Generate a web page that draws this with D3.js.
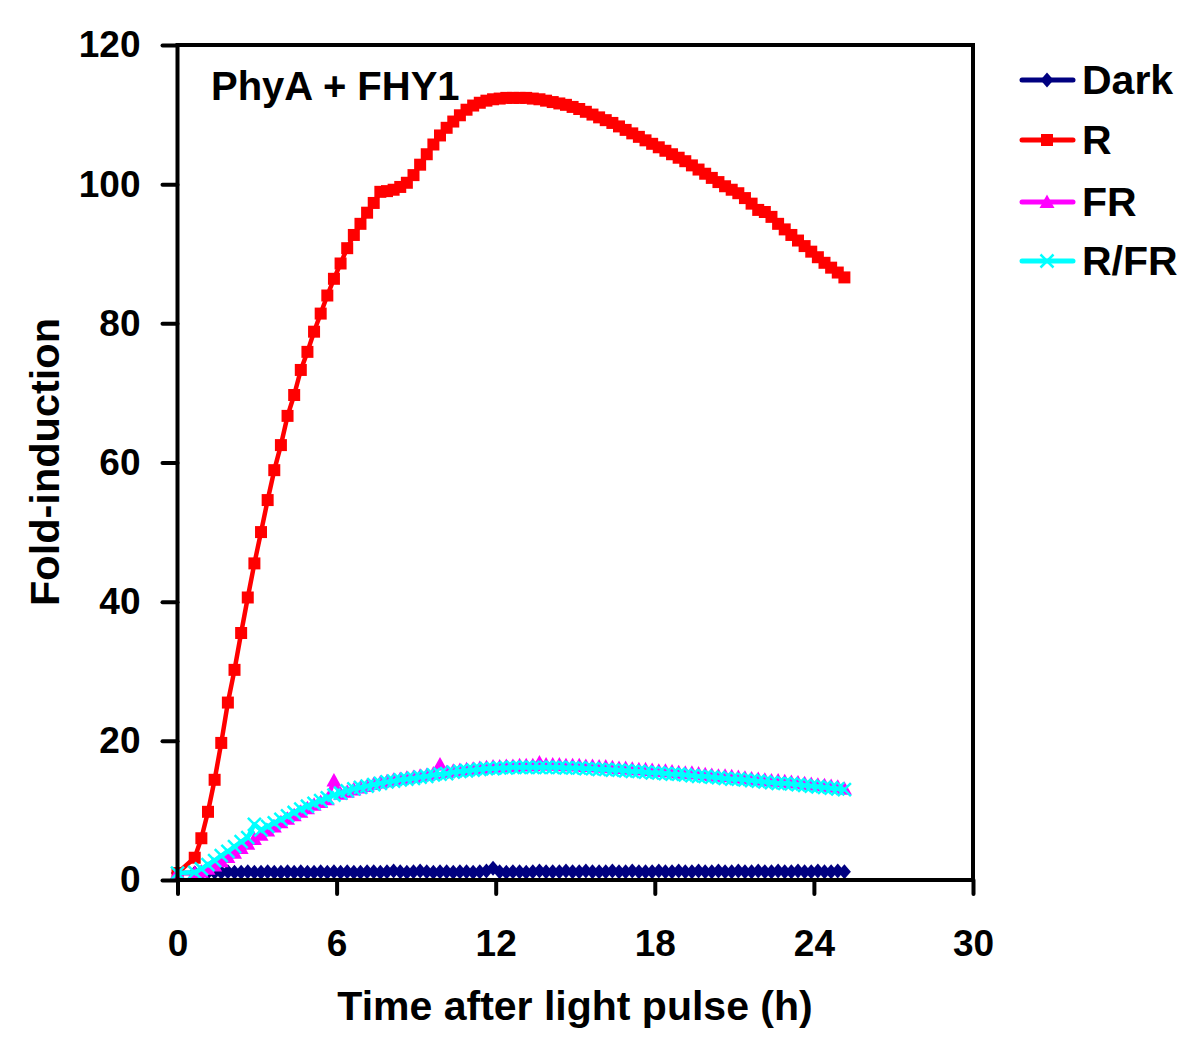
<!DOCTYPE html>
<html>
<head>
<meta charset="utf-8">
<script src="https://cdn.jsdelivr.net/npm/d3@7"></script>
<style>
  html, body { margin: 0; padding: 0; background: #fff; }
  svg { display: block; }
  text { font-family: "Liberation Sans", Arial, Helvetica, sans-serif; font-weight: bold; fill: #000; }
</style>
</head>
<body>
<svg id="chart" width="1200" height="1051"></svg>
<script>
// ---- data ----
const times = [0, 0.65, 0.9, 1.15, 1.4, 1.65, 1.9, 2.15, 2.4, 2.65, 2.9, 3.15, 3.4, 3.65, 3.9, 4.15, 4.4, 4.65, 4.9, 5.15, 5.4, 5.65, 5.9, 6.15, 6.4, 6.65, 6.9, 7.15, 7.4, 7.65, 7.9, 8.15, 8.4, 8.65, 8.9, 9.15, 9.4, 9.65, 9.9, 10.15, 10.4, 10.65, 10.9, 11.15, 11.4, 11.65, 11.9, 12.15, 12.4, 12.65, 12.9, 13.15, 13.4, 13.65, 13.9, 14.15, 14.4, 14.65, 14.9, 15.15, 15.4, 15.65, 15.9, 16.15, 16.4, 16.65, 16.9, 17.15, 17.4, 17.65, 17.9, 18.15, 18.4, 18.65, 18.9, 19.15, 19.4, 19.65, 19.9, 20.15, 20.4, 20.65, 20.9, 21.15, 21.4, 21.65, 21.9, 22.15, 22.4, 22.65, 22.9, 23.15, 23.4, 23.65, 23.9, 24.15, 24.4, 24.65, 24.9, 25.15];

const darkValues = [1.0, 1.0, 1.0, 1.1, 1.1, 1.1, 1.2, 1.1, 1.1, 1.2, 1.1, 1.1, 1.2, 1.1, 1.1, 1.2, 1.1, 1.2, 1.1, 1.1, 1.2, 1.1, 1.2, 1.1, 1.2, 1.1, 1.1, 1.2, 1.2, 1.1, 1.2, 1.3, 1.2, 1.1, 1.2, 1.3, 1.2, 1.1, 1.2, 1.2, 1.1, 1.2, 1.2, 1.1, 1.2, 1.3, 1.7, 1.2, 1.1, 1.2, 1.2, 1.1, 1.2, 1.3, 1.2, 1.2, 1.2, 1.3, 1.2, 1.2, 1.3, 1.2, 1.2, 1.2, 1.3, 1.2, 1.2, 1.3, 1.2, 1.2, 1.2, 1.3, 1.2, 1.2, 1.3, 1.2, 1.2, 1.3, 1.2, 1.2, 1.3, 1.2, 1.2, 1.3, 1.2, 1.2, 1.3, 1.2, 1.2, 1.3, 1.2, 1.2, 1.3, 1.2, 1.2, 1.3, 1.2, 1.2, 1.3, 1.2];

const rValues = [1.0, 3.2, 6.0, 9.8, 14.4, 19.7, 25.5, 30.2, 35.5, 40.6, 45.5, 50.0, 54.6, 58.9, 62.5, 66.7, 69.7, 73.3, 75.9, 78.8, 81.4, 84.0, 86.4, 88.6, 90.8, 92.7, 94.3, 95.9, 97.3, 98.9, 99.0, 99.2, 99.6, 100.2, 101.3, 102.8, 104.3, 105.7, 107.0, 108.1, 109.0, 109.9, 110.7, 111.3, 111.7, 112.0, 112.2, 112.3, 112.4, 112.4, 112.4, 112.4, 112.3, 112.2, 112.0, 111.8, 111.6, 111.4, 111.1, 110.8, 110.4, 110.0, 109.6, 109.2, 108.8, 108.3, 107.8, 107.3, 106.8, 106.3, 105.8, 105.3, 104.8, 104.3, 103.8, 103.3, 102.7, 102.1, 101.5, 100.9, 100.3, 99.7, 99.2, 98.7, 98.0, 97.2, 96.3, 96.0, 95.3, 94.3, 93.5, 92.7, 91.9, 91.1, 90.3, 89.5, 88.7, 88.0, 87.3, 86.6];

const frValues = [1.0, 1.0, 1.2, 1.6, 2.1, 2.7, 3.3, 3.9, 4.6, 5.2, 5.9, 6.5, 7.1, 7.7, 8.3, 8.8, 9.3, 9.8, 10.3, 10.8, 11.2, 11.6, 14.3, 12.4, 12.7, 13.0, 13.3, 13.5, 13.8, 14.0, 14.2, 14.4, 14.5, 14.7, 14.8, 15.0, 15.1, 15.3, 16.6, 15.5, 15.7, 15.8, 15.9, 16.0, 16.1, 16.2, 16.3, 16.3, 16.4, 16.4, 16.5, 16.5, 16.5, 16.9, 16.6, 16.6, 16.6, 16.5, 16.5, 16.5, 16.4, 16.4, 16.3, 16.3, 16.2, 16.1, 16.1, 16.0, 15.9, 15.9, 15.8, 15.7, 15.7, 15.6, 15.5, 15.4, 15.4, 15.3, 15.2, 15.1, 15.0, 15.0, 14.9, 14.8, 14.7, 14.6, 14.5, 14.4, 14.3, 14.3, 14.2, 14.1, 14.0, 13.9, 13.8, 13.7, 13.6, 13.5, 13.4, 13.1];

const rfrValues = [1.0, 1.1, 1.6, 2.2, 2.8, 3.5, 4.1, 4.8, 5.5, 6.1, 8.0, 7.2, 7.7, 8.2, 8.7, 9.2, 9.7, 10.2, 10.6, 11.0, 11.4, 11.8, 12.2, 12.5, 12.8, 13.1, 13.3, 13.5, 13.7, 13.9, 14.1, 14.2, 14.4, 14.5, 14.6, 14.8, 14.9, 15.1, 15.2, 15.3, 15.5, 15.6, 15.7, 15.8, 15.9, 16.0, 16.0, 16.1, 16.1, 16.2, 16.2, 16.2, 16.2, 16.2, 16.2, 16.2, 16.2, 16.1, 16.1, 16.1, 16.0, 16.0, 15.9, 15.9, 15.8, 15.8, 15.7, 15.6, 15.6, 15.5, 15.4, 15.4, 15.3, 15.2, 15.2, 15.1, 15.0, 14.9, 14.9, 14.8, 14.7, 14.6, 14.5, 14.5, 14.4, 14.3, 14.2, 14.1, 14.0, 13.9, 13.9, 13.8, 13.7, 13.6, 13.5, 13.4, 13.3, 13.2, 13.1, 13.0];

const seriesNames = ["Dark", "R", "FR", "R/FR"];
const seriesColors = ["#000080", "#FF0000", "#FF00FF", "#00FFFF"];
const seriesMarkers = ["diamond", "square", "triangle", "cross"];
const xTicks = [0, 6, 12, 18, 24, 30];
const yTicks = [0, 20, 40, 60, 80, 100, 120];
const xTitle = "Time after light pulse (h)";
const yTitle = "Fold-induction";
const annotation = "PhyA + FHY1";

// ---- layout ----
const svg = d3.select("#chart");
const pL = 177.5, pR = 973, pT = 45, pB = 880;
const x = d3.scaleLinear().domain([0, 30]).range([pL, pR]);
const y = d3.scaleLinear().domain([0, 120]).range([pB, pT]);

const seriesValues = [darkValues, rValues, frValues, rfrValues];
const series = seriesNames.map((name, i) => ({
  name, color: seriesColors[i], marker: seriesMarkers[i],
  points: times.map((t, j) => ({ t, v: seriesValues[i][j] })).filter(p => p.v != null)
}));

function markerPath(type) {
  switch (type) {
    case "diamond": return "M0,-7.5L6.5,0L0,7.5L-6.5,0Z";
    case "square": return "M-6,-6L6,-6L6,6L-6,6Z";
    case "triangle": return "M0,-7.5L7.5,6L-7.5,6Z";
    case "cross": return "M-6.5,-6.5L6.5,6.5M-6.5,6.5L6.5,-6.5";
  }
}

function drawMarker(g, type, color) {
  const p = g.append("path").attr("d", markerPath(type));
  if (type === "cross") p.attr("fill", "none").attr("stroke", color).attr("stroke-width", 2.5);
  else p.attr("fill", color).attr("stroke", "none");
}

const plot = svg.append("g");
const line = d3.line().x(d => x(d.t)).y(d => y(d.v));

series.forEach(s => {
  const g = plot.append("g");
  g.append("path").datum(s.points)
    .attr("d", line).attr("fill", "none")
    .attr("stroke", s.color).attr("stroke-width", 4.5).attr("stroke-linejoin", "round");
  g.selectAll("g.m").data(s.points).enter().append("g")
    .attr("transform", d => `translate(${x(d.t)},${y(d.v)})`)
    .each(function() { drawMarker(d3.select(this), s.marker, s.color); });
});

// ---- axes ----
const axisStroke = 4;
const xAxis = d3.axisBottom(x).tickValues(xTicks).tickSize(14).tickPadding(36).tickFormat(d3.format("d"));
const yAxis = d3.axisLeft(y).tickValues(yTicks).tickSize(15).tickPadding(22).tickFormat(d3.format("d"));

const gx = svg.append("g").attr("transform", `translate(0,${pB})`).call(xAxis);
const gy = svg.append("g").attr("transform", `translate(${pL},0)`).call(yAxis);
[gx, gy].forEach(g => {
  g.select(".domain").remove();
  g.selectAll(".tick line").attr("stroke", "#000").attr("stroke-width", axisStroke).attr("stroke-linecap", "round");
  g.selectAll(".tick text").style("font-family", '"Liberation Sans", Arial, sans-serif')
    .style("font-weight", "bold").style("font-size", "37px").attr("fill", "#000");
});

// frame
svg.append("rect").attr("x", pL).attr("y", pT).attr("width", pR - pL).attr("height", pB - pT)
  .attr("fill", "none").attr("stroke", "#000").attr("stroke-width", axisStroke);

// titles
svg.append("text").attr("x", 575).attr("y", 1020).attr("text-anchor", "middle")
  .style("font-size", "41px").text(xTitle);
svg.append("text").attr("transform", "translate(59,462) rotate(-90)").attr("text-anchor", "middle")
  .style("font-size", "41.5px").text(yTitle);
svg.append("text").attr("x", 211).attr("y", 100).style("font-size", "40px").text(annotation);

// legend
const legY = [80, 140, 202, 261];
series.forEach((s, i) => {
  const g = svg.append("g").attr("transform", `translate(0,${legY[i]})`);
  g.append("line").attr("x1", 1022).attr("x2", 1073).attr("y1", 0).attr("y2", 0)
    .attr("stroke", s.color).attr("stroke-width", 5).attr("stroke-linecap", "round");
  const m = g.append("g").attr("transform", "translate(1047,0)");
  drawMarker(m, s.marker, s.color);
  g.append("text").attr("x", 1082).attr("y", 14).style("font-size", "41px").text(s.name);
});
</script>
</body>
</html>
